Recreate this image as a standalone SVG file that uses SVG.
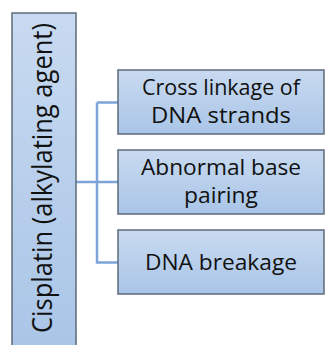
<svg xmlns="http://www.w3.org/2000/svg" width="325" height="345" viewBox="0 0 325 345">
<defs>
<linearGradient id="g" x1="0" y1="0" x2="0" y2="1">
<stop offset="0" stop-color="#c8daf0"/>
<stop offset="1" stop-color="#a9c5e7"/>
</linearGradient>
<style>
.box{stroke:#5d6b7a;stroke-width:1.5}
.t{font-family:"Open Sans","DejaVu Sans",sans-serif;fill:#111;text-anchor:middle;font-size:22px}
.c{fill:none;stroke:#7da5d9;stroke-width:2.5}
</style>
</defs>
<g id="connectors">
<path class="c" d="M76 182H97M97 102.5H118M97 102.5V262.5H118M97 182H118"/>
</g>
<g id="cisplatin">
<rect class="box" x="12" y="13" width="64" height="340" fill="url(#g)"/>
<text class="t" transform="translate(52 178) rotate(-90)" style="font-size:27px" textLength="310" lengthAdjust="spacingAndGlyphs">Cisplatin (alkylating agent)</text>
</g>
<g id="cross">
<rect class="box" x="118" y="70" width="206" height="64" fill="url(#g)"/>
<text class="t" x="221" y="95" textLength="158" lengthAdjust="spacingAndGlyphs">Cross linkage of</text>
<text class="t" x="221" y="123" textLength="140" lengthAdjust="spacingAndGlyphs">DNA strands</text>
</g>
<g id="abnormal">
<rect class="box" x="118" y="150" width="206" height="64" fill="url(#g)"/>
<text class="t" x="221" y="175" textLength="160" lengthAdjust="spacingAndGlyphs">Abnormal base</text>
<text class="t" x="221" y="203" textLength="74" lengthAdjust="spacingAndGlyphs">pairing</text>
</g>
<g id="breakage">
<rect class="box" x="118" y="230" width="206" height="64" fill="url(#g)"/>
<text class="t" x="221" y="270" textLength="152" lengthAdjust="spacingAndGlyphs">DNA breakage</text>
</g>
</svg>
